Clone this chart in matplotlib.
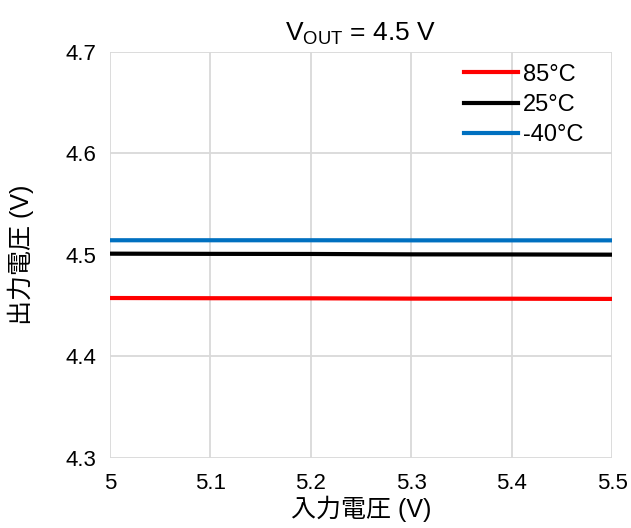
import numpy as np
import matplotlib.pyplot as plt

plt.rcParams['font.family'] = ['Liberation Sans', 'Noto Sans CJK JP', 'DejaVu Sans']

vin = [5.0, 5.1, 5.2, 5.3, 5.4, 5.5]
v_85 = [4.4576, 4.4574, 4.4573, 4.4570, 4.4569, 4.4567]
v_25 = [4.5013, 4.5011, 4.5010, 4.5006, 4.5005, 4.5003]
v_m40 = [4.5145, 4.5145, 4.5145, 4.5144, 4.5144, 4.5144]

fig = plt.figure(figsize=(6.31, 5.28), dpi=100)
ax = fig.add_axes([0.174, 0.1326, 0.796, 0.769])

ax.plot(vin, v_85, color='#ff0000', lw=3, label='85°C')
ax.plot(vin, v_25, color='#000000', lw=3, label='25°C')
ax.plot(vin, v_m40, color='#0070c0', lw=3, label='-40°C')

ax.set_xlim(5, 5.5)
ax.set_ylim(4.3, 4.7)
ax.set_xticks([5, 5.1, 5.2, 5.3, 5.4, 5.5])
ax.set_xticklabels(['5', '5.1', '5.2', '5.3', '5.4', '5.5'])
ax.set_yticks([4.3, 4.4, 4.5, 4.6, 4.7])
ax.grid(True, color='#d9d9d9', lw=1.3)
ax.set_axisbelow(True)
for s in ax.spines.values():
    s.set_visible(False)
ax.tick_params(length=0, labelsize=16)
ax.tick_params(axis='x', pad=11)
ax.tick_params(axis='y', pad=10)

ax.set_xlabel('入力電圧 (V)', fontsize=18, labelpad=1)
ax.set_ylabel('出力電圧 (V)', fontsize=18, labelpad=22)
ax.set_title('V$_\\mathregular{OUT}$ = 4.5 V', fontsize=19, pad=8)

ax.legend(loc='upper right', bbox_to_anchor=(0.966, 1.0), frameon=False,
          fontsize=17, handlelength=2.3, handletextpad=0.2,
          labelspacing=0.35, borderaxespad=0.1)

fig.savefig('out.png', dpi=100)
